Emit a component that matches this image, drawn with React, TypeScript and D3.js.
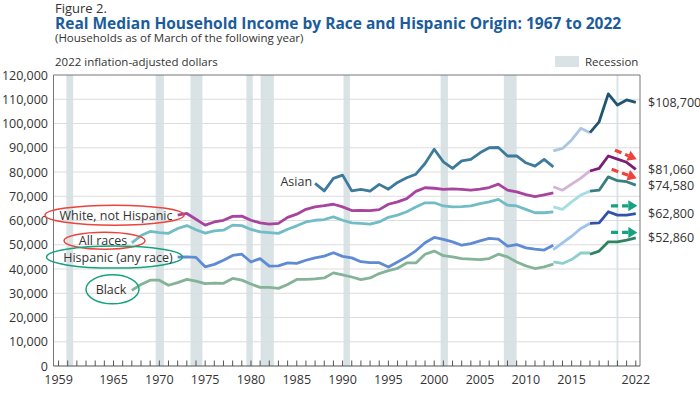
import React from "react";
import * as d3 from "d3";

// values in 2022 dollars
const oldYears = d3.range(1967, 2014);
const years72 = d3.range(1972, 2014);
const years87 = d3.range(1987, 2014);
const midYears = [2013, 2014, 2015, 2016, 2017];
const newYears = [2017, 2018, 2019, 2020, 2021, 2022];

const allRacesOld = [50800, 53800, 55500, 55000, 54700, 56700, 57900, 56200, 54800, 55700, 56000, 58100, 57900, 56300, 55300, 55000, 54700, 56400, 57800, 59400, 60100, 60400, 61500, 60100, 59000, 58800, 58500, 59400, 61300, 62200, 63600, 65600, 67300, 67300, 66000, 65600, 65700, 66000, 67000, 67700, 68700, 66300, 66000, 64600, 63200, 63200, 63600];
const allRacesMid = [65600, 64600, 67700, 70500, 72100];
const allRacesNew = [72100, 72500, 78000, 76400, 76000, 74580];

const whiteOld = [62200, 62900, 60500, 58100, 59400, 60100, 61700, 61800, 60100, 59000, 58500, 58800, 61300, 62600, 64600, 65600, 66100, 66700, 65600, 64100, 64200, 64100, 64500, 66700, 67700, 69000, 72000, 73500, 73300, 72800, 73000, 72800, 72500, 72900, 73600, 75000, 72500, 71800, 70700, 69800, 70600, 71400];
const whiteMid = [73900, 72500, 75000, 77500, 80500];
const whiteNew = [80400, 81500, 86600, 85300, 84000, 81060];

const asianOld = [75300, 72200, 77400, 78700, 72200, 72800, 72100, 74900, 72900, 75700, 77600, 79100, 83500, 89400, 84200, 81500, 84600, 85200, 87900, 90000, 90100, 86600, 86600, 83800, 82400, 85200, 82100];
const asianMid = [88700, 89700, 93200, 98000, 96200];
const asianNew = [96200, 100700, 112200, 107600, 109700, 108700];

const hispanicOld = [44900, 45000, 44800, 40900, 41900, 43600, 45600, 46100, 42900, 44300, 41200, 41300, 42500, 42300, 43600, 44600, 45300, 46700, 45200, 44600, 43000, 42600, 42600, 40800, 42900, 45000, 47500, 50800, 53000, 52200, 51200, 49800, 50500, 51600, 52600, 52300, 49400, 50100, 48700, 48200, 47800, 49800];
const hispanicMid = [48000, 50800, 53500, 56700, 58800];
const hispanicNew = [58800, 59000, 63600, 62200, 62200, 62800];

const blackOld = [31200, 33600, 35400, 35400, 33300, 34400, 35700, 35000, 34000, 34200, 34100, 36100, 35400, 33800, 32400, 32400, 32000, 33600, 35700, 35700, 35900, 36300, 38400, 37600, 36700, 35600, 36300, 38100, 39300, 40300, 42500, 42500, 46100, 47400, 45500, 45000, 44300, 44100, 43900, 44300, 46100, 45000, 42900, 41300, 40200, 40900, 42000];
const blackMid = [42900, 42300, 43900, 46600, 46600];
const blackNew = [46100, 47400, 51200, 51200, 51900, 52860];

const recessions = [[1959.85, 1960.6], [1969.6, 1970.5], [1973.4, 1974.7], [1979.5, 1980.2], [1981.05, 1982.5], [1990.1, 1990.8], [2000.7, 2001.5], [2007.6, 2009.0], [2019.9, 2020.1]];

const yTicks = d3.range(0, 120001, 10000);
const xLabels = [1959, 1965, 1970, 1975, 1980, 1985, 1990, 1995, 2000, 2005, 2010, 2015, 2022];

const series = [
  { name: "Asian", segs: [[years87, asianOld, "#3d7a9c"], [midYears, asianMid, "#a9c6e2"], [newYears, asianNew, "#1f5570"]] },
  { name: "White, not Hispanic", segs: [[years72, whiteOld, "#a8449e"], [midYears, whiteMid, "#d5b3d8"], [newYears, whiteNew, "#7a1f74"]] },
  { name: "All races", segs: [[oldYears, allRacesOld, "#72bcc6"], [midYears, allRacesMid, "#a6dde2"], [newYears, allRacesNew, "#3a7f80"]] },
  { name: "Hispanic (any race)", segs: [[years72, hispanicOld, "#5f8ad4"], [midYears, hispanicMid, "#9ec4ee"], [newYears, hispanicNew, "#3152a8"]] },
  { name: "Black", segs: [[oldYears, blackOld, "#84b398"], [midYears, blackMid, "#8fcfcb"], [newYears, blackNew, "#2d8461"]] },
];

const endLabels = [108700, 81060, 74580, 62800, 52860];

const FONT = "'Open Sans', sans-serif";
const RED = "#ec433d";
const GREEN = "#15a27f";

export default function App() {
  const x = d3.scaleLinear().domain([1958.45, 2022.46]).range([53.5, 640]);
  const y = d3.scaleLinear().domain([0, 120000]).range([366, 75]);
  const line = d3.line<[number, number]>().x(d => x(d[0])).y(d => y(d[1]));

  const arrow = (x1: number, y1: number, x2: number, y2: number, color: string, key: string) => {
    const ang = Math.atan2(y2 - y1, x2 - x1);
    const hl = 9, hw = 5.5;
    const bx = x2 - hl * Math.cos(ang), by = y2 - hl * Math.sin(ang);
    const px = -Math.sin(ang) * hw, py = Math.cos(ang) * hw;
    return (
      <g key={key}>
        <line x1={x1} y1={y1} x2={bx} y2={by} stroke={color} strokeWidth={3.2} strokeDasharray="7,4" />
        <polygon points={`${x2},${y2} ${bx + px},${by + py} ${bx - px},${by - py}`} fill={color} />
      </g>
    );
  };

  return (
    <svg width={700} height={394} style={{ position: "absolute", left: 0, top: 0, background: "#fff" }} fontFamily={FONT}>
      <text x={55} y={13} fontSize={13} fill="#333">Figure 2.</text>
      <text x={55} y={28.5} fontSize={15.5} fontWeight={700} fill="#1b5c9c">Real Median Household Income by Race and Hispanic Origin: 1967 to 2022</text>
      <text x={55} y={42} fontSize={11.5} fill="#333">(Households as of March of the following year)</text>
      <text x={55} y={66} fontSize={11.5} fill="#333">2022 inflation-adjusted dollars</text>

      {/* legend */}
      <rect x={555} y={56} width={24} height={11} fill="#d9e3e5" />
      <text x={585} y={65.5} fontSize={11.5} fill="#333">Recession</text>

      {/* recession bars */}
      {recessions.map(([a, b], i) => (
        <rect key={i} x={x(a)} y={75} width={Math.max(x(b) - x(a), 1.5)} height={366 - 75} fill="#d9e3e5" />
      ))}

      {/* grid */}
      {yTicks.map(t => (
        <g key={t}>
          {t > 0 && t < 120000 && <line x1={53.5} x2={640} y1={y(t)} y2={y(t)} stroke="#dcdcdc" strokeWidth={1} />}
          <text x={48} y={y(t) + 4.5} fontSize={12.5} textAnchor="end" fill="#333">{d3.format(",")(t)}</text>
        </g>
      ))}

      {/* frame */}
      <path d={`M53.5,366 V75 H640 V366`} fill="none" stroke="#777" strokeWidth={1} />
      <line x1={53.5} x2={640} y1={366} y2={366} stroke="#555" strokeWidth={1.2} />
      {d3.range(1959, 2023).map(yr => (
        <line key={yr} x1={x(yr)} x2={x(yr)} y1={366} y2={360.5} stroke="#555" strokeWidth={1} />
      ))}
      {xLabels.map(yr => (
        <text key={yr} x={x(yr)} y={384} fontSize={12.5} textAnchor="middle" fill="#333">{yr}</text>
      ))}

      {/* lines */}
      {series.map(s => s.segs.map(([yrs, vals, col], i) => (
        <path key={s.name + i}
          d={line((yrs as number[]).map((yr, j) => [yr, (vals as number[])[j]]))!}
          fill="none" stroke={col as string} strokeWidth={2.8} strokeLinejoin="round" />
      )))}

      {/* series labels */}
      <text x={x(1987) - 3} y={y(75300) + 3} fontSize={12.5} textAnchor="end" fill="#333">Asian</text>
      <ellipse cx={114.5} cy={y(62200)} rx={69.5} ry={10} fill="none" stroke={RED} strokeWidth={1.5} />
      <text x={116} y={y(62200) + 4.5} fontSize={12.5} textAnchor="middle" fill="#333">White, not Hispanic</text>
      <ellipse cx={104.5} cy={y(51000) - 1.5} rx={40.5} ry={8.5} fill="none" stroke={RED} strokeWidth={1.5} />
      <text x={103} y={y(51000) + 3} fontSize={12.5} textAnchor="middle" fill="#333">All races</text>
      <ellipse cx={114.5} cy={y(44900)} rx={68} ry={11} fill="none" stroke={GREEN} strokeWidth={1.5} />
      <text x={118} y={y(44900) + 4.5} fontSize={12.5} textAnchor="middle" fill="#333">Hispanic (any race)</text>
      <ellipse cx={112.5} cy={y(31200) - 1} rx={26.5} ry={14.5} fill="none" stroke={GREEN} strokeWidth={1.5} />
      <text x={111} y={y(31200) + 3.5} fontSize={12.5} textAnchor="middle" fill="#333">Black</text>

      {/* end labels */}
      {endLabels.map((v, i) => (
        <text key={i} x={648} y={y(v) + 4.5} fontSize={12.5} fill="#333">{"$" + d3.format(",")(v)}</text>
      ))}

      {/* arrows */}
      {arrow(x(2019.73), y(89000), x(2022.1), y(85300), RED, "r1")}
      {arrow(x(2019.37), y(81100), x(2022.1), y(77400), RED, "r2")}
      {arrow(x(2019.3), y(66050), x(2022.17), y(66050), GREEN, "g1")}
      {arrow(x(2019.3), y(55100), x(2022.17), y(55100), GREEN, "g2")}
    </svg>
  );
}
